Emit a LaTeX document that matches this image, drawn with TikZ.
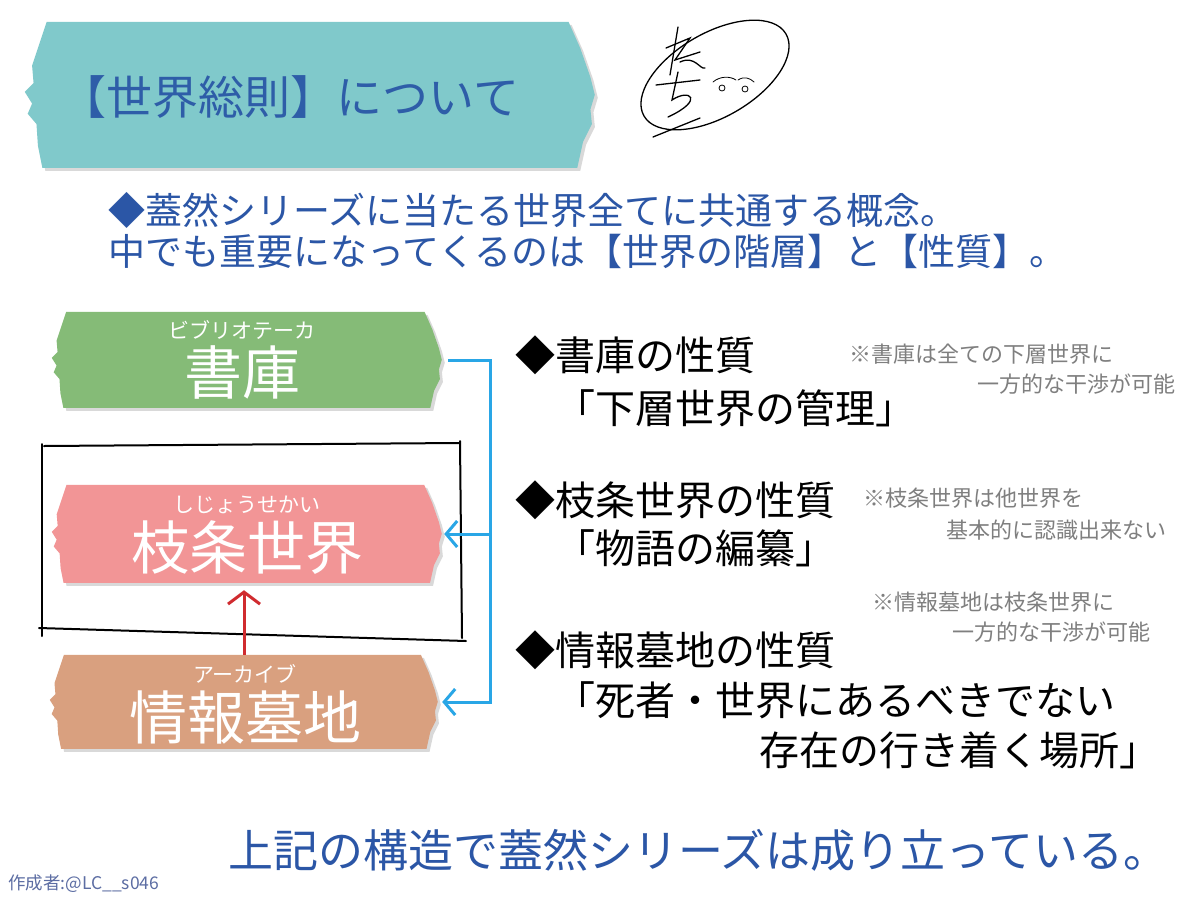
\documentclass[tikz,border=0pt]{standalone}
\usepackage{fontspec}
\setmainfont{Noto Sans CJK JP}
\usetikzlibrary{arrows.meta,calc,backgrounds}
\definecolor{tealtape}{HTML}{80C9CB}
\definecolor{titleblue}{HTML}{2E5DA8}
\definecolor{leadblue}{HTML}{2B56A6}
\definecolor{greentape}{HTML}{85BB77}
\definecolor{pinktape}{HTML}{F29596}
\definecolor{browntape}{HTML}{D9A07F}
\definecolor{linkblue}{HTML}{29A6E6}
\definecolor{liftred}{HTML}{D02B2F}
\definecolor{notegray}{HTML}{7F7F7F}
\definecolor{creditblue}{HTML}{5C6DA3}
\tikzset{
  tapebox/.style={rectangle, inner sep=0pt},
  tapetext/.style={text=white, inner sep=0pt, font=\fontsize{58}{60}\selectfont},
  rubytext/.style={text=white, inner sep=0pt, font=\fontsize{21}{23}\selectfont},
  leadtext/.style={text=leadblue, inner sep=0pt, anchor=west, font=\fontsize{37}{40}\selectfont},
  proptext/.style={text=black, inner sep=0pt, anchor=west, font=\fontsize{40}{44}\selectfont},
  notetext/.style={text=notegray, inner sep=0pt, font=\fontsize{22}{24}\selectfont},
  linkarrow/.style={linkblue, line width=3pt, -{Straight Barb[length=11pt,width=26pt]}},
  liftarrow/.style={liftred, line width=3pt, -{Straight Barb[length=12pt,width=32pt]}},
  framebox/.style={black, line width=2pt, line cap=round},
  sigline/.style={black, line width=1.3pt, line cap=round},
}
% torn tape behind a node: node, colour, width, height
\newcommand{\tornband}[4]{%
  \begin{scope}[on background layer, shift={(#1.north west)}]
    \fill[#2, preaction={fill=black, fill opacity=0.15, transform canvas={shift={(3,3)}}}]
      ({0.15*#4},0) -- ({#3-0.18*#4},0) -- ({#3-0.1*#4},{0.18*#4})
      -- ({#3-0.03*#4},{0.38*#4}) -- ({#3},{0.5*#4}) -- ({#3-0.03*#4},{0.6*#4})
      -- ({#3-0.02*#4},{0.7*#4}) -- ({#3-0.08*#4},{0.82*#4}) -- ({#3-0.12*#4},{#4})
      -- ({0.12*#4},{#4}) -- ({0.09*#4},{0.85*#4}) -- ({0.08*#4},{0.7*#4})
      -- ({0.02*#4},{0.63*#4}) -- ({0.05*#4},{0.56*#4}) -- (0,{0.48*#4})
      -- ({0.06*#4},{0.42*#4}) -- ({0.05*#4},{0.3*#4}) -- ({0.1*#4},{0.15*#4}) -- cycle;
  \end{scope}}
\begin{document}
\begin{tikzpicture}[x=1pt, y=-1pt]
  \useasboundingbox (0,0) rectangle (1200,900);
  \begin{scope}[on background layer]
    \fill[white] (0,0) rectangle (1200,900);
  \end{scope}

  % title
  \node[tapebox, minimum width=570pt, minimum height=146pt] (title) at (310,95) {};
  \tornband{title}{tealtape}{570}{146}
  \node[text=titleblue, inner sep=0pt, font=\fontsize{46}{50}\selectfont] (titletext) at (290,97) {【世界総則】について};

  % signature
  \draw[sigline, rotate around={30:(715,75)}] (715,75) ellipse [x radius=82, y radius=42];
  \draw[sigline] (678,27) -- (670,75);
  \draw[sigline] (666,48) -- (690,38) -- (675,60) -- (700,52);
  \draw[sigline] (680,62) .. controls (695,55) and (700,70) .. (705,68);
  \draw[sigline] (656,85) -- (700,80);
  \draw[sigline] (678,72) -- (672,100) .. controls (690,88) and (705,100) .. (668,117);
  \draw[sigline, line width=0.8pt] (713,82) .. controls (720,76) and (730,76) .. (736,80);
  \draw[sigline, line width=0.8pt] (738,80) .. controls (744,76) and (750,78) .. (754,82);
  \draw[sigline, line width=0.8pt] (722,88) circle (3) (745,89) circle (3);
  \draw[sigline] (653,137) -- (700,118);

  % lead
  \node[leadtext] (leadone) at (108,210) {◆蓋然シリーズに当たる世界全てに共通する概念。};
  \node[leadtext] (leadtwo) at (108,251) {中でも重要になってくるのは【世界の階層】と【性質】。};

  % tapes
  \node[tapebox, minimum width=390pt, minimum height=96pt] (shoko) at (247,360) {};
  \tornband{shoko}{greentape}{390}{96}
  \node[tapetext] (shokoname) at (242,372) {書庫};
  \node[rubytext] (shokoruby) at (242,330) {ビブリオテーカ};

  \node[tapebox, minimum width=390pt, minimum height=98pt] (shijo) at (247,534) {};
  \tornband{shijo}{pinktape}{390}{98}
  \node[tapetext] (shijoname) at (247,548) {枝条世界};
  \node[rubytext] (shijoruby) at (247,505) {しじょうせかい};

  \node[tapebox, minimum width=388pt, minimum height=94pt] (archive) at (244,702) {};
  \tornband{archive}{browntape}{388}{94}
  \node[tapetext] (archivename) at (245,718) {情報墓地};
  \node[rubytext] (archiveruby) at (245,674) {アーカイブ};

  % frame round the branch world
  \draw[framebox] (44,446) -- (459,443);
  \draw[framebox] (42,444) -- (42,636);
  \draw[framebox] (460,441) -- (462,638);
  \draw[framebox] (39,628) -- (466,641);

  % links
  \coordinate (rail) at (490,0);
  \draw[linkarrow, shorten >=4pt] ([xshift=6]shoko.east) -- (shoko.east -| rail) |- (archive.east);
  \draw[linkarrow, shorten >=2pt] (rail |- shijo.east) -- (shijo.east);
  \draw[liftarrow, shorten >=7pt] (archive.north) -- (archive.north |- shijo.south);

  % properties
  \node[proptext] (shokoprop) at (515,355) {◆書庫の性質};
  \node[proptext] (shokorole) at (555,408) {「下層世界の管理」};
  \node[proptext] (shijoprop) at (515,500) {◆枝条世界の性質};
  \node[proptext] (shijorole) at (555,548) {「物語の編纂」};
  \node[proptext] (archiveprop) at (515,650) {◆情報墓地の性質};
  \node[proptext] (archiverole) at (555,700) {「死者・世界にあるべきでない};
  \node[proptext, anchor=east] (archiverolecont) at (1160,750) {存在の行き着く場所」};

  % notes
  \node[notetext, anchor=west] (shokonote) at (849,354) {※書庫は全ての下層世界に};
  \node[notetext, anchor=east] (shokonotecont) at (1176,384) {一方的な干渉が可能};
  \node[notetext, anchor=west] (shijonote) at (863,498) {※枝条世界は他世界を};
  \node[notetext, anchor=east] (shijonotecont) at (1167,530) {基本的に認識出来ない};
  \node[notetext, anchor=west] (archivenote) at (872,602) {※情報墓地は枝条世界に};
  \node[notetext, anchor=east] (archivenotecont) at (1151,632) {一方的な干渉が可能};

  % closing
  \node[leadtext, font=\fontsize{45}{48}\selectfont] (closing) at (228,850) {上記の構造で蓋然シリーズは成り立っている。};
  \node[text=creditblue, inner sep=0pt, anchor=west, font=\fontsize{17.5}{19}\selectfont] (credit) at (8,884) {作成者:@LC\_\_s046};
\end{tikzpicture}
\end{document}
